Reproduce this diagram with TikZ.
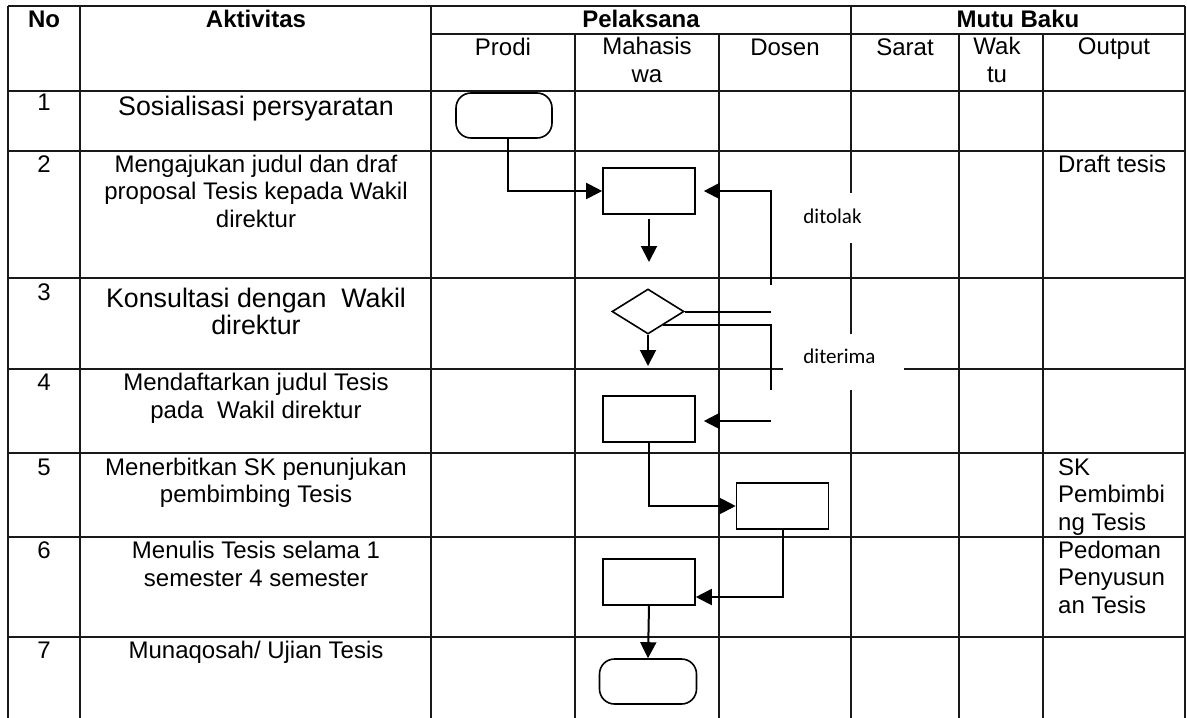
\documentclass[tikz,border=0pt]{standalone}
\usepackage{fontspec}
\setmainfont{Liberation Sans}
\newfontfamily\calfont{Carlito}
\usetikzlibrary{arrows.meta,shapes.geometric,calc}
\begin{document}
\begin{tikzpicture}[x=1pt,y=-1pt,
  grid/.style={line width=1.3pt, black!90},
  shp/.style={draw, line width=1.6pt, fill=white, inner sep=0pt},
  procbox/.style={shp, rectangle, minimum width=92pt, minimum height=46pt},
  termbox/.style={shp, rectangle, rounded corners=15pt, minimum width=96pt, minimum height=45pt},
  decbox/.style={shp, diamond, minimum width=72pt, minimum height=45pt},
  gapbox/.style={fill=white, inner sep=0pt, minimum width=121pt},
  conn/.style={line width=2pt},
  arr/.style={conn, -{Triangle[length=16pt,width=16pt]}},
  hdr/.style={font=\bfseries\fontsize{24}{27}\selectfont, anchor=base, inner sep=0pt, align=center},
  txt/.style={font=\fontsize{24}{27.6}\selectfont, anchor=base, align=center, inner sep=0pt},
  bigtxt/.style={font=\fontsize{26.8}{27}\selectfont, anchor=base, align=center, inner sep=0pt},
  outtxt/.style={font=\fontsize{24}{27.6}\selectfont, anchor=base west, align=left, inner sep=0pt},
  lbl/.style={font=\calfont\fontsize{21}{24}\selectfont, anchor=base, inner sep=0pt}
]
\useasboundingbox (0,0) rectangle (1187,718);
% horizontal grid lines
\foreach \yy in {6,91,151,278,369,453,537,637}
  \draw[grid] (8,\yy) -- (1185,\yy);
\draw[grid] (431,34) -- (1185,34);
% vertical grid lines
\foreach \xx in {8,80,431,851,1185}
  \draw[grid] (\xx,6) -- (\xx,718);
\foreach \xx in {575,719,959,1043}
  \draw[grid] (\xx,34) -- (\xx,718);

% white label boxes interrupting the grid
\node[gapbox, minimum height=50pt] (tolakbox) at (843.5,218) {};
\node[gapbox, minimum height=56pt] (terimabox) at (843.5,362) {};
\node[lbl] (tolaklbl) at (832.5,223) {ditolak};
\node[lbl] (terimalbl) at (839.5,363) {diterima};

% header (multi-line nodes: anchor at the baseline of the last line)
\node[hdr] (hno) at (44,27) {No};
\node[hdr] (hakt) at (256,27) {Aktivitas};
\node[hdr] (hpel) at (641,27) {Pelaksana};
\node[hdr] (hmutu) at (1018,27) {Mutu Baku};
\node[txt] (hprodi) at (503,55) {Prodi};
\node[txt] (hmhs) at (647,82) {Mahasis\\wa};
\node[txt] (hdosen) at (785,55) {Dosen};
\node[txt] (hsarat) at (905,55) {Sarat};
\node[txt] (hwaktu) at (997,82) {Wak\\tu};
\node[txt] (houtput) at (1114,54) {Output};

% numbers
\node[txt] (n1) at (44,110) {1};
\node[txt] (n2) at (44,172) {2};
\node[txt] (n3) at (44,300) {3};
\node[txt] (n4) at (44,390) {4};
\node[txt] (n5) at (44,475) {5};
\node[txt] (n6) at (44,558) {6};
\node[txt] (n7) at (44,658) {7};

% activities
\node[bigtxt] (a1) at (256,115) {Sosialisasi persyaratan};
\node[txt] (a2) at (256,227.2) {Mengajukan judul dan draf\\proposal Tesis kepada Wakil\\direktur};
\node[bigtxt] (a3) at (256,334) {Konsultasi dengan \ Wakil\\direktur};
\node[txt] (a4) at (256,418) {Mendaftarkan judul Tesis\\pada \ Wakil direktur};
\node[txt] (a5) at (256,502.6) {Menerbitkan SK penunjukan\\pembimbing Tesis};
\node[txt] (a6) at (256,586) {Menulis Tesis selama 1\\semester 4 semester};
\node[txt] (a7) at (256,658) {Munaqosah/ Ujian Tesis};

% outputs
\node[outtxt] (o2) at (1058,172) {Draft tesis};
\node[outtxt] (o5) at (1058,530.2) {SK\\Pembimbi\\ng Tesis};
\node[outtxt] (o6) at (1058,613.2) {Pedoman\\Penyusun\\an Tesis};

% flowchart shapes
\node[termbox] (t1) at (504,115.5) {};
\node[procbox] (r2) at (649,191) {};
\node[decbox] (d3) at (648,311.5) {};
\node[procbox] (r4) at (649,419) {};
\node[procbox] (r5) at (782.5,506) {};
\node[procbox] (r6) at (649,582) {};
\node[termbox, minimum width=97pt] (t7) at (648,681.5) {};

% free connector ends
\coordinate (a2tip) at (649,262);
\coordinate (a3tip) at (648,366);
\coordinate (tolakfoot) at (771,285);
\coordinate (terimafoot) at (771,390);
\coordinate (terimaend) at (771,421);

% connectors
\draw[arr] ([xshift=4pt]t1.south) |- (r2.west);
\draw[arr] ([yshift=-4pt]r2.south) -- (a2tip);
\draw[arr, shorten >=8pt] (tolakfoot) |- (r2.east);
\draw[conn] (d3.east) -- (d3.east -| terimafoot);
\draw[conn] ($(d3.east)!0.6!(d3.south)$) -| (terimafoot);
\draw[arr] (d3.south) -- (a3tip);
\draw[arr, shorten >=8pt] (terimaend) -- (terimaend -| r4.east);
\draw[arr] (r4.south) |- (r5.west);
\draw[arr] (r5.south) |- ([yshift=-15pt]r6.east);
\draw[arr] (r6.south) -- (t7.north);
\end{tikzpicture}
\end{document}
